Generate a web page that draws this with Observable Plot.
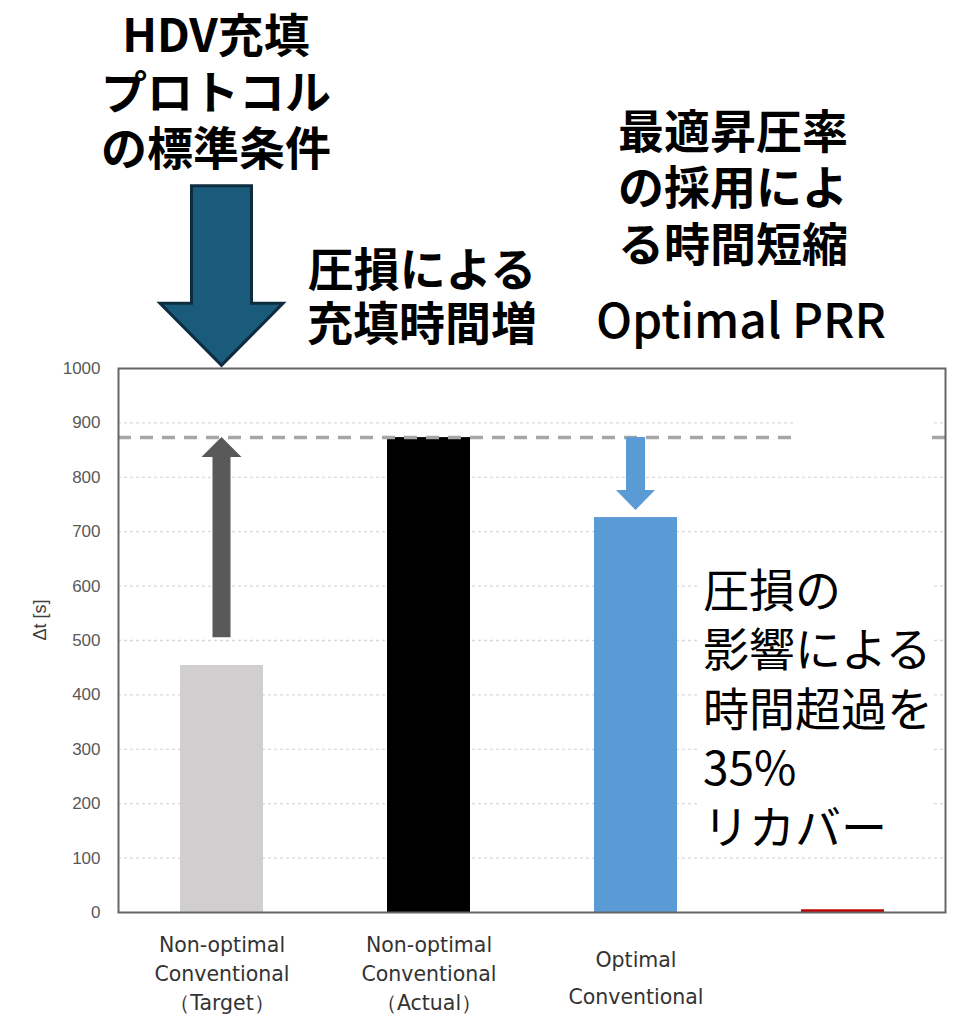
<!DOCTYPE html>
<html>
<head>
<meta charset="utf-8">
<script src="https://cdn.jsdelivr.net/npm/d3@7"></script>
<script src="https://cdn.jsdelivr.net/npm/@observablehq/plot@0.6"></script>
<style>
html, body { margin: 0; padding: 0; background: #fff; }
#chart svg { display: block; }
#chart g[aria-label^="y-axis"] text { font-size: 17px !important; fill: #595959; }
#chart g[aria-label="ylabel"] text { font-size: 18px !important; }
</style>
</head>
<body>
<div id="chart"></div>
<script>
// ---- data ----
const categories = ["NonOptTarget", "NonOptActual", "OptConv", "OptPRR"];
const xTickLabels = [
  "Non-optimal\nConventional\n（Target）",
  "Non-optimal\nConventional\n（Actual）",
  "Optimal\nConventional",
  ""
];
const deltaT = [454, 873, 726, 5];
const barColors = ["#d0cece", "#000000", "#5b9bd5", "#c00000"];
const yTicks = [0, 100, 200, 300, 400, 500, 600, 700, 800, 900, 1000];
const gridValues = [100, 200, 300, 400, 500, 600, 700, 800, 900];
const referenceLevel = [873];

// arrows (category, from value, to value)
const arrowCats = ["NonOptTarget", "OptConv", "NonOptTarget"];
const arrowFrom = [505, 873, 1335];
const arrowTo = [873, 739, 1005];

// annotation texts
const noteStandard = "HDV充填\nプロトコル\nの標準条件";
const noteLoss = "圧損による\n充填時間増";
const noteOptimal = "最適昇圧率\nの採用によ\nる時間短縮";
const noteOptimalEn = "Optimal PRR";
const noteRecovery = "圧損の\n影響による\n時間超過を\n35%\nリカバー";
const yLabel = "Δt [s]";

// ---- build ----
const bars = categories.map((c, i) => ({cat: c, value: deltaT[i], color: barColors[i], label: xTickLabels[i]}));
const arrowStyles = [
  {fill: "#595959", shaft: 18, headW: 40, head: 20, stroke: "none", sw: 0},
  {fill: "#5b9bd5", shaft: 19, headW: 39, head: 20, stroke: "none", sw: 0},
  {fill: "#1a5b7c", shaft: 60, headW: 123, head: 62, stroke: "#0d2c3e", sw: 3}
];
const arrows = arrowCats.map((c, i) => ({cat: c, from: arrowFrom[i], to: arrowTo[i], ...arrowStyles[i]}));

function blockArrows(specs) {
  return (index, scales) => {
    const x = scales.x, y = scales.y;
    const b = x.bandwidth;
    const bw = typeof b === "function" ? b.call(x) : (typeof b === "number" ? b : 0);
    const g = d3.create("svg:g").attr("aria-label", "block-arrow");
    for (const s of specs) {
      const cx = x(s.cat) + bw / 2;
      const y0 = y(s.from), y1 = y(s.to);
      const dir = Math.sign(y1 - y0);
      const hb = y1 - dir * s.head;
      const sh = s.shaft / 2, hw = s.headW / 2;
      const pts = [[cx - sh, y0], [cx + sh, y0], [cx + sh, hb], [cx + hw, hb], [cx, y1], [cx - hw, hb], [cx - sh, hb]];
      g.append("path")
        .attr("d", "M" + pts.map(p => p.join(",")).join("L") + "Z")
        .attr("fill", s.fill)
        .attr("stroke", s.stroke)
        .attr("stroke-width", s.sw)
        .attr("stroke-linejoin", "miter");
    }
    return g.node();
  };
}

const jp = "'Noto Sans CJK JP', 'Noto Sans', sans-serif";

const chart = Plot.plot({
  width: 964,
  height: 1017,
  marginTop: 368,
  marginBottom: 105,
  marginLeft: 118,
  marginRight: 19,
  style: {fontFamily: "'Liberation Sans', Arial, sans-serif", fontSize: "17px", color: "#595959", background: "#fff"},
  x: {domain: categories, paddingInner: 0.6, paddingOuter: 0.29, axis: null},
  y: {domain: [0, 1000], ticks: yTicks, tickSize: 0, tickPadding: 18, tickFormat: d => String(d), label: null},
  color: {type: "identity"},
  marks: [
    Plot.ruleY(gridValues, {stroke: "#d9d9d9", strokeWidth: 1.3, strokeDasharray: "3,3"}),
    Plot.barY(bars, {x: "cat", y: "value", fill: "color"}),
    Plot.ruleY(referenceLevel, {stroke: "#a6a6a6", strokeWidth: 3.5, strokeDasharray: "13,9"}),
    // white boxes (text box / legend area covering lines, as in original)
    Plot.barY([0], {x: () => categories[3], y1: 110, y2: 645, fill: "white", insetLeft: -102, insetRight: -50}),
    Plot.barY([0], {x: () => categories[3], y1: 850, y2: 960, fill: "white", insetLeft: -6, insetRight: -48}),
    Plot.frame({stroke: "#666", strokeWidth: 2}),
    blockArrows(arrows),
    // x tick labels
    Plot.text(bars.slice(0, 2), {x: "cat", text: "label", frameAnchor: "bottom", dy: 59, lineAnchor: "middle", lineHeight: 1.42, fontSize: 20.5, fontFamily: "'DejaVu Sans', sans-serif", fill: "#333"}),
    Plot.text(bars.slice(2, 3), {x: "cat", text: "label", frameAnchor: "bottom", dy: 61, lineAnchor: "middle", lineHeight: 1.8, fontSize: 20.5, fontFamily: "'DejaVu Sans', sans-serif", fill: "#333"}),
    // y label
    Plot.text([yLabel], {text: d => d, frameAnchor: "left", dx: -78, rotate: -90, fontSize: 18, fill: "#404040", ariaLabel: "ylabel"}),
    // annotations
    Plot.text([noteStandard], {x: () => categories[0], text: d => d, frameAnchor: "top", dy: -278, dx: -6, lineAnchor: "middle", lineHeight: 1.23, fontSize: 46, fontWeight: 700, fontFamily: jp, fill: "#000"}),
    Plot.text([noteLoss], {x: () => categories[1], text: d => d, frameAnchor: "top", dy: -73, dx: -7, lineAnchor: "middle", lineHeight: 1.17, fontSize: 46, fontWeight: 700, fontFamily: jp, fill: "#000"}),
    Plot.text([noteOptimal], {x: () => categories[2], text: d => d, frameAnchor: "top", dy: -182, dx: 97, lineAnchor: "middle", lineHeight: 1.22, fontSize: 46, fontWeight: 700, fontFamily: jp, fill: "#000"}),
    Plot.text([noteOptimalEn], {x: () => categories[2], text: d => d, frameAnchor: "top", dy: -46, dx: 105, lineAnchor: "middle", fontSize: 48, fontWeight: 500, fontFamily: jp, fill: "#000"}),
    Plot.text([noteRecovery], {x: () => categories[2], text: d => d, frameAnchor: "top", dy: 338, dx: 67, textAnchor: "start", lineAnchor: "middle", lineHeight: 1.29, fontSize: 46, fontWeight: 400, fontFamily: jp, fill: "#000"})
  ]
});
document.getElementById("chart").appendChild(chart);
</script>
</body>
</html>
